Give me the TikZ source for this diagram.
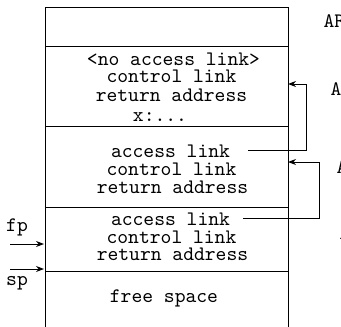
\documentclass[tikz,border=0pt]{standalone}
\usetikzlibrary{arrows.meta}
\tikzset{
  txt/.style={anchor=base, inner sep=0pt, font=\ttfamily\fontsize{10.3pt}{10.3pt}\selectfont},
  link/.style={-{Stealth[length=4pt,width=3pt]}, line width=0.5pt},
}
\begin{document}
\begin{tikzpicture}[x=0.5pt, y=-0.5pt, line width=0.5pt]
\def\xleft{45};
\def\xright{288};
\def\xmid{171.5};

\def \ytop{8};
\def \yone{47};
\def \ytwo{126};
\def \ythree{207};
\def \yfour{271};
\def \ybot{326};

\useasboundingbox (0,0) rectangle (341,326);
\clip (0,0) rectangle (341,326);

% the stack
\draw (\xleft, \ybot+5) -- (\xleft, \ytop) -- (\xright, \ytop) -- (\xright, \ybot+5);
\foreach \y in {\yone, \ytwo, \ythree, \yfour}
  \draw (\xleft, \y) -- (\xright, \y);

% frame of the outer procedure
\node[txt] (noal) at (173.5, 66) {<no access link>};
\node[txt] (cl2) at (\xmid, 83) {control link};
\node[txt] (ra2) at (\xmid, 101) {return address};
\node[txt] (x2) at (160, 121) {x:...};

% middle frame
\node[txt] (al3) at (170.5, 157) {access link};
\node[txt] (cl3) at (\xmid, 175) {control link};
\node[txt] (ra3) at (172.5, 193) {return address};

% current frame
\node[txt] (al4) at (170.5, 225) {access link};
\node[txt] (cl4) at (\xmid, 243) {control link};
\node[txt] (ra4) at (172.5, 260) {return address};

\node[txt] (free) at (164, 302) {free space};

% access links
\coordinate (t2) at (\xright, 84);
\coordinate (t3) at (\xright, 162);
\draw[link] ([xshift=9pt]al3.east) -| (306, 84) -- (t2);
\draw[link] ([xshift=6.5pt]al4.east) -| (319, 162) -- (t3);

% pointers
\node[txt] (fp) at (17, 231) {fp};
\node[txt] (sp) at (17, 285) {sp};
\coordinate (fpa) at (\xleft-1, 244);
\coordinate (spa) at (\xleft-1, 269);
\draw[link] (10, 244) -- (fpa);
\draw[link] (10, 269) -- (spa);

% names of the records, cut off at the edge
\node[txt, anchor=base west] (ar1) at (323, 28) {AR};
\node[txt, anchor=base west] (ar2) at (330, 95) {AR};
\node[txt, anchor=base west] (ar3) at (336, 173) {AR};
\node[txt, anchor=base west] (ar4) at (339, 239) {AR};

\end{tikzpicture}
\end{document}
